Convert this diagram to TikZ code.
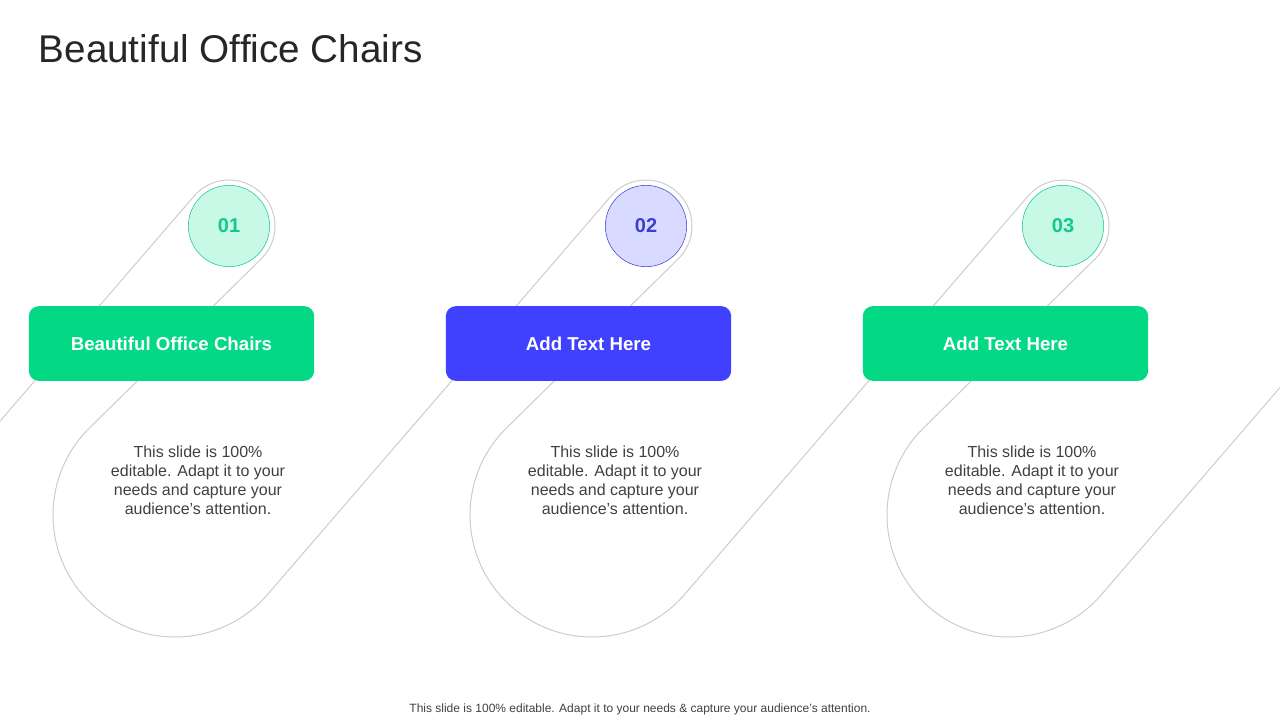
\documentclass[tikz,border=0pt]{standalone}
\usepackage{fontspec}
\setmainfont{Liberation Sans}
\usetikzlibrary{calc,positioning}
\definecolor{mint}{HTML}{03D984}
\definecolor{mintlight}{HTML}{C8F8E6}
\definecolor{mintdark}{HTML}{12C98B}
\definecolor{indigo}{HTML}{4040FF}
\definecolor{indigolight}{HTML}{D8DAFF}
\definecolor{indigodark}{HTML}{3A3FD0}
\tikzset{
rope/.style={draw=gray!40, line width=0.75pt},
titlebox/.style={rounded corners=7.5pt, minimum width=214pt, minimum height=56pt,
  text=white, font=\fontsize{14}{16}\selectfont\bfseries},
numdot/.style={circle, minimum size=61pt, inner sep=0pt, font=\fontsize{15}{17}\selectfont\bfseries},
bodytext/.style={align=center, text=black!75, font=\fontsize{12}{14.25}\selectfont},
}
\begin{document}
\begin{tikzpicture}[x=0.75pt,y=-0.75pt]
    \useasboundingbox (0,0) rectangle (1280,720);
    \node[anchor=base west, text=black!85, font=\fontsize{29}{34}\selectfont] (title) at (34,63) {Beautiful Office Chairs};

    % centres of the small and big circles
    \foreach \i in {0,...,4} {
        \coordinate (s\i) at ({229+417*(\i-1)},226);
        \coordinate (b\i) at ({175+417*(\i-1)},515);
    }
    \begin{scope}
        \clip (0,0) rectangle (1280,720);
        \draw[rope] ($(b0)+(40.7:122)$) -- ($(s1)+(-139.3:46)$)
            \foreach \i/\j in {1/2,2/3,3/4} {
                arc[start angle=-139.3, end angle=45.7, radius=46]
                -- ($(b\i)+(225.7:122)$)
                arc[start angle=225.7, end angle=40.7, radius=122]
                -- ($(s\j)+(-139.3:46)$)
            };
    \end{scope}

    \node[numdot, fill=mintlight, draw=mintdark, text=mintdark] (n1) at (s1) {01};
    \node[numdot, fill=indigolight, draw=indigodark, text=indigodark] (n2) at (s2) {02};
    \node[numdot, fill=mintlight, draw=mintdark, text=mintdark] (n3) at (s3) {03};

    \node[titlebox, fill=mint] (box1) at (171.5,343.5) {Beautiful Office Chairs};
    \node[titlebox, fill=indigo] (box2) at (588.5,343.5) {Add Text Here};
    \node[titlebox, fill=mint] (box3) at (1005.5,343.5) {Add Text Here};

    \node[bodytext] (text1) at (198,480) {This slide is 100\%\\editable. Adapt it to your\\needs and capture your\\audience's attention.};
    \node[bodytext] (text2) at (615,480) {This slide is 100\%\\editable. Adapt it to your\\needs and capture your\\audience's attention.};
    \node[bodytext] (text3) at (1032,480) {This slide is 100\%\\editable. Adapt it to your\\needs and capture your\\audience's attention.};

    \node[text=black!75, font=\fontsize{9}{11}\selectfont] (footer) at (640,709) {This slide is 100\% editable. Adapt it to your needs \& capture your audience's attention.};
\end{tikzpicture}
\end{document}
